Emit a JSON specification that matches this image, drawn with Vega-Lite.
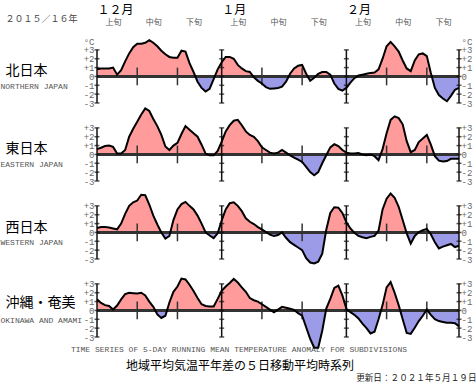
{
"$schema": "https://vega.github.io/schema/vega-lite/v6.json",
"padding": {"top": 3, "left": 0, "right": 0, "bottom": 0},
"bounds": "flush",
"spacing": 16,
"config": {"view": {"stroke": null}, "axis": {"grid": false, "ticks": false, "domain": false, "labelFont": "Liberation Mono", "labelFontSize": 9, "labelColor": "#6a6a6a", "labelOverlap": false, "labelFlush": false, "titleFontWeight": "normal"}},
"datasets": {
"north": [{"date":"2015-12-01","v":0.8},{"date":"2015-12-02","v":0.9},{"date":"2015-12-03","v":0.9},{"date":"2015-12-04","v":0.9},{"date":"2015-12-05","v":1.0},{"date":"2015-12-06","v":0.2},{"date":"2015-12-07","v":0.7},{"date":"2015-12-08","v":1.7},{"date":"2015-12-09","v":2.6},{"date":"2015-12-10","v":3.3},{"date":"2015-12-11","v":3.7},{"date":"2015-12-12","v":3.7},{"date":"2015-12-13","v":3.8},{"date":"2015-12-14","v":4.1},{"date":"2015-12-15","v":3.8},{"date":"2015-12-16","v":3.4},{"date":"2015-12-17","v":2.9},{"date":"2015-12-18","v":2.5},{"date":"2015-12-19","v":2.2},{"date":"2015-12-20","v":2.1},{"date":"2015-12-21","v":2.1},{"date":"2015-12-22","v":2.9},{"date":"2015-12-23","v":2.8},{"date":"2015-12-24","v":1.5},{"date":"2015-12-25","v":0.5},{"date":"2015-12-26","v":-0.6},{"date":"2015-12-27","v":-1.3},{"date":"2015-12-28","v":-1.7},{"date":"2015-12-29","v":-1.4},{"date":"2015-12-30","v":-0.3},{"date":"2015-12-31","v":0.8},
{"date":"2016-01-01","v":1.6},{"date":"2016-01-02","v":2.2},{"date":"2016-01-03","v":2.2},{"date":"2016-01-04","v":2.0},{"date":"2016-01-05","v":1.3},{"date":"2016-01-06","v":0.9},{"date":"2016-01-07","v":0.6},{"date":"2016-01-08","v":0.5},{"date":"2016-01-09","v":-0.1},{"date":"2016-01-10","v":-0.5},{"date":"2016-01-11","v":-0.8},{"date":"2016-01-12","v":-1.2},{"date":"2016-01-13","v":-1.4},{"date":"2016-01-14","v":-1.35},{"date":"2016-01-15","v":-1.3},{"date":"2016-01-16","v":-1.15},{"date":"2016-01-17","v":-0.6},{"date":"2016-01-18","v":0.3},{"date":"2016-01-19","v":0.9},{"date":"2016-01-20","v":1.2},{"date":"2016-01-21","v":1.3},{"date":"2016-01-22","v":0.3},{"date":"2016-01-23","v":-0.5},{"date":"2016-01-24","v":-0.15},{"date":"2016-01-25","v":0.3},{"date":"2016-01-26","v":0.5},{"date":"2016-01-27","v":0.5},{"date":"2016-01-28","v":0.2},{"date":"2016-01-29","v":-0.8},{"date":"2016-01-30","v":-1.4},{"date":"2016-01-31","v":-1.6},
{"date":"2016-02-01","v":-1.3},{"date":"2016-02-02","v":-0.7},{"date":"2016-02-03","v":-0.2},{"date":"2016-02-04","v":0.1},{"date":"2016-02-05","v":0.2},{"date":"2016-02-06","v":0.3},{"date":"2016-02-07","v":0.4},{"date":"2016-02-08","v":0.45},{"date":"2016-02-09","v":0.8},{"date":"2016-02-10","v":2.0},{"date":"2016-02-11","v":3.4},{"date":"2016-02-12","v":3.9},{"date":"2016-02-13","v":3.4},{"date":"2016-02-14","v":2.8},{"date":"2016-02-15","v":1.8},{"date":"2016-02-16","v":0.9},{"date":"2016-02-17","v":0.6},{"date":"2016-02-18","v":1.8},{"date":"2016-02-19","v":2.5},{"date":"2016-02-20","v":2.6},{"date":"2016-02-21","v":2.3},{"date":"2016-02-22","v":0.4},{"date":"2016-02-23","v":-1.3},{"date":"2016-02-24","v":-2.1},{"date":"2016-02-25","v":-2.5},{"date":"2016-02-26","v":-2.8},{"date":"2016-02-27","v":-2.2},{"date":"2016-02-28","v":-1.5},{"date":"2016-02-29","v":-1.3}],
"east": [{"date":"2015-12-01","v":0.6},{"date":"2015-12-02","v":0.75},{"date":"2015-12-03","v":0.95},{"date":"2015-12-04","v":1.0},{"date":"2015-12-05","v":0.85},{"date":"2015-12-06","v":0.1},{"date":"2015-12-07","v":0.1},{"date":"2015-12-08","v":0.5},{"date":"2015-12-09","v":2.0},{"date":"2015-12-10","v":2.9},{"date":"2015-12-11","v":3.7},{"date":"2015-12-12","v":4.5},{"date":"2015-12-13","v":5.2},{"date":"2015-12-14","v":4.9},{"date":"2015-12-15","v":4.0},{"date":"2015-12-16","v":3.2},{"date":"2015-12-17","v":2.2},{"date":"2015-12-18","v":0.9},{"date":"2015-12-19","v":0.5},{"date":"2015-12-20","v":1.0},{"date":"2015-12-21","v":1.3},{"date":"2015-12-22","v":2.3},{"date":"2015-12-23","v":3.2},{"date":"2015-12-24","v":2.8},{"date":"2015-12-25","v":2.4},{"date":"2015-12-26","v":2.0},{"date":"2015-12-27","v":1.1},{"date":"2015-12-28","v":0.1},{"date":"2015-12-29","v":-0.1},{"date":"2015-12-30","v":-0.1},{"date":"2015-12-31","v":0.4},
{"date":"2016-01-01","v":1.45},{"date":"2016-01-02","v":2.6},{"date":"2016-01-03","v":3.3},{"date":"2016-01-04","v":3.8},{"date":"2016-01-05","v":3.9},{"date":"2016-01-06","v":3.3},{"date":"2016-01-07","v":2.6},{"date":"2016-01-08","v":2.2},{"date":"2016-01-09","v":2.0},{"date":"2016-01-10","v":1.5},{"date":"2016-01-11","v":0.8},{"date":"2016-01-12","v":0.5},{"date":"2016-01-13","v":0.2},{"date":"2016-01-14","v":0.1},{"date":"2016-01-15","v":0.2},{"date":"2016-01-16","v":0.5},{"date":"2016-01-17","v":0.2},{"date":"2016-01-18","v":-0.1},{"date":"2016-01-19","v":-0.35},{"date":"2016-01-20","v":-0.6},{"date":"2016-01-21","v":-0.85},{"date":"2016-01-22","v":-1.4},{"date":"2016-01-23","v":-2.0},{"date":"2016-01-24","v":-2.35},{"date":"2016-01-25","v":-2.0},{"date":"2016-01-26","v":-1.0},{"date":"2016-01-27","v":-0.1},{"date":"2016-01-28","v":0.8},{"date":"2016-01-29","v":1.15},{"date":"2016-01-30","v":0.95},{"date":"2016-01-31","v":0.5},
{"date":"2016-02-01","v":0.2},{"date":"2016-02-02","v":0.1},{"date":"2016-02-03","v":0.1},{"date":"2016-02-04","v":0.15},{"date":"2016-02-05","v":0.0},{"date":"2016-02-06","v":-0.1},{"date":"2016-02-07","v":0.0},{"date":"2016-02-08","v":-0.2},{"date":"2016-02-09","v":-0.65},{"date":"2016-02-10","v":0.6},{"date":"2016-02-11","v":2.4},{"date":"2016-02-12","v":3.9},{"date":"2016-02-13","v":4.3},{"date":"2016-02-14","v":4.1},{"date":"2016-02-15","v":3.4},{"date":"2016-02-16","v":1.5},{"date":"2016-02-17","v":0.25},{"date":"2016-02-18","v":0.5},{"date":"2016-02-19","v":1.4},{"date":"2016-02-20","v":1.8},{"date":"2016-02-21","v":2.2},{"date":"2016-02-22","v":1.1},{"date":"2016-02-23","v":-0.2},{"date":"2016-02-24","v":-0.7},{"date":"2016-02-25","v":-0.8},{"date":"2016-02-26","v":-0.75},{"date":"2016-02-27","v":-0.5},{"date":"2016-02-28","v":-0.5},{"date":"2016-02-29","v":-0.5}],
"west": [{"date":"2015-12-01","v":0.5},{"date":"2015-12-02","v":0.6},{"date":"2015-12-03","v":0.6},{"date":"2015-12-04","v":0.55},{"date":"2015-12-05","v":0.45},{"date":"2015-12-06","v":0.35},{"date":"2015-12-07","v":1.0},{"date":"2015-12-08","v":2.1},{"date":"2015-12-09","v":3.0},{"date":"2015-12-10","v":3.4},{"date":"2015-12-11","v":3.6},{"date":"2015-12-12","v":4.25},{"date":"2015-12-13","v":4.2},{"date":"2015-12-14","v":3.15},{"date":"2015-12-15","v":1.9},{"date":"2015-12-16","v":0.9},{"date":"2015-12-17","v":0.0},{"date":"2015-12-18","v":-0.7},{"date":"2015-12-19","v":-0.4},{"date":"2015-12-20","v":1.4},{"date":"2015-12-21","v":2.6},{"date":"2015-12-22","v":3.2},{"date":"2015-12-23","v":3.45},{"date":"2015-12-24","v":3.0},{"date":"2015-12-25","v":2.6},{"date":"2015-12-26","v":1.9},{"date":"2015-12-27","v":1.0},{"date":"2015-12-28","v":0.0},{"date":"2015-12-29","v":-0.35},{"date":"2015-12-30","v":-0.65},{"date":"2015-12-31","v":-0.1},
{"date":"2016-01-01","v":1.35},{"date":"2016-01-02","v":2.6},{"date":"2016-01-03","v":3.3},{"date":"2016-01-04","v":3.4},{"date":"2016-01-05","v":3.0},{"date":"2016-01-06","v":2.4},{"date":"2016-01-07","v":1.6},{"date":"2016-01-08","v":1.2},{"date":"2016-01-09","v":0.95},{"date":"2016-01-10","v":0.6},{"date":"2016-01-11","v":0.35},{"date":"2016-01-12","v":0.05},{"date":"2016-01-13","v":-0.25},{"date":"2016-01-14","v":-0.4},{"date":"2016-01-15","v":-0.3},{"date":"2016-01-16","v":0.0},{"date":"2016-01-17","v":-0.6},{"date":"2016-01-18","v":-1.1},{"date":"2016-01-19","v":-1.4},{"date":"2016-01-20","v":-1.7},{"date":"2016-01-21","v":-2.0},{"date":"2016-01-22","v":-2.9},{"date":"2016-01-23","v":-3.4},{"date":"2016-01-24","v":-3.5},{"date":"2016-01-25","v":-3.3},{"date":"2016-01-26","v":-2.4},{"date":"2016-01-27","v":0.3},{"date":"2016-01-28","v":2.2},{"date":"2016-01-29","v":2.85},{"date":"2016-01-30","v":2.8},{"date":"2016-01-31","v":2.2},
{"date":"2016-02-01","v":1.15},{"date":"2016-02-02","v":0.45},{"date":"2016-02-03","v":-0.05},{"date":"2016-02-04","v":-0.4},{"date":"2016-02-05","v":-0.55},{"date":"2016-02-06","v":-0.65},{"date":"2016-02-07","v":-0.5},{"date":"2016-02-08","v":-0.4},{"date":"2016-02-09","v":0.2},{"date":"2016-02-10","v":2.6},{"date":"2016-02-11","v":3.8},{"date":"2016-02-12","v":4.4},{"date":"2016-02-13","v":3.9},{"date":"2016-02-14","v":2.9},{"date":"2016-02-15","v":1.4},{"date":"2016-02-16","v":-0.1},{"date":"2016-02-17","v":-1.25},{"date":"2016-02-18","v":-0.4},{"date":"2016-02-19","v":0.05},{"date":"2016-02-20","v":0.25},{"date":"2016-02-21","v":0.4},{"date":"2016-02-22","v":-0.2},{"date":"2016-02-23","v":-1.1},{"date":"2016-02-24","v":-1.8},{"date":"2016-02-25","v":-1.6},{"date":"2016-02-26","v":-1.45},{"date":"2016-02-27","v":-1.3},{"date":"2016-02-28","v":-1.65},{"date":"2016-02-29","v":-1.5}],
"okinawa": [{"date":"2015-12-01","v":1.25},{"date":"2015-12-02","v":0.85},{"date":"2015-12-03","v":0.6},{"date":"2015-12-04","v":0.5},{"date":"2015-12-05","v":0.1},{"date":"2015-12-06","v":0.55},{"date":"2015-12-07","v":1.25},{"date":"2015-12-08","v":1.85},{"date":"2015-12-09","v":2.0},{"date":"2015-12-10","v":1.95},{"date":"2015-12-11","v":1.9},{"date":"2015-12-12","v":2.0},{"date":"2015-12-13","v":1.7},{"date":"2015-12-14","v":1.0},{"date":"2015-12-15","v":0.4},{"date":"2015-12-16","v":-0.45},{"date":"2015-12-17","v":-0.85},{"date":"2015-12-18","v":-0.6},{"date":"2015-12-19","v":0.9},{"date":"2015-12-20","v":2.1},{"date":"2015-12-21","v":2.7},{"date":"2015-12-22","v":3.6},{"date":"2015-12-23","v":3.5},{"date":"2015-12-24","v":2.9},{"date":"2015-12-25","v":2.2},{"date":"2015-12-26","v":1.4},{"date":"2015-12-27","v":0.7},{"date":"2015-12-28","v":0.5},{"date":"2015-12-29","v":0.45},{"date":"2015-12-30","v":0.45},{"date":"2015-12-31","v":1.3},
{"date":"2016-01-01","v":2.2},{"date":"2016-01-02","v":2.7},{"date":"2016-01-03","v":3.1},{"date":"2016-01-04","v":3.55},{"date":"2016-01-05","v":3.15},{"date":"2016-01-06","v":2.6},{"date":"2016-01-07","v":2.1},{"date":"2016-01-08","v":1.4},{"date":"2016-01-09","v":1.15},{"date":"2016-01-10","v":1.0},{"date":"2016-01-11","v":0.7},{"date":"2016-01-12","v":0.4},{"date":"2016-01-13","v":0.1},{"date":"2016-01-14","v":-0.2},{"date":"2016-01-15","v":0.1},{"date":"2016-01-16","v":0.4},{"date":"2016-01-17","v":0.3},{"date":"2016-01-18","v":0.2},{"date":"2016-01-19","v":0.05},{"date":"2016-01-20","v":-0.3},{"date":"2016-01-21","v":-0.6},{"date":"2016-01-22","v":-1.9},{"date":"2016-01-23","v":-3.2},{"date":"2016-01-24","v":-4.2},{"date":"2016-01-25","v":-4.2},{"date":"2016-01-26","v":-2.3},{"date":"2016-01-27","v":0.2},{"date":"2016-01-28","v":1.3},{"date":"2016-01-29","v":2.55},{"date":"2016-01-30","v":2.8},{"date":"2016-01-31","v":1.7},
{"date":"2016-02-01","v":0.2},{"date":"2016-02-02","v":-0.2},{"date":"2016-02-03","v":-0.5},{"date":"2016-02-04","v":-0.9},{"date":"2016-02-05","v":-1.5},{"date":"2016-02-06","v":-2.0},{"date":"2016-02-07","v":-2.6},{"date":"2016-02-08","v":-2.4},{"date":"2016-02-09","v":-1.0},{"date":"2016-02-10","v":0.6},{"date":"2016-02-11","v":2.6},{"date":"2016-02-12","v":3.2},{"date":"2016-02-13","v":2.0},{"date":"2016-02-14","v":0.6},{"date":"2016-02-15","v":-1.0},{"date":"2016-02-16","v":-2.55},{"date":"2016-02-17","v":-2.65},{"date":"2016-02-18","v":-1.95},{"date":"2016-02-19","v":-1.2},{"date":"2016-02-20","v":-0.6},{"date":"2016-02-21","v":0.1},{"date":"2016-02-22","v":-0.5},{"date":"2016-02-23","v":-1.0},{"date":"2016-02-24","v":-1.2},{"date":"2016-02-25","v":-1.3},{"date":"2016-02-26","v":-1.4},{"date":"2016-02-27","v":-1.4},{"date":"2016-02-28","v":-1.45},{"date":"2016-02-29","v":-1.8}],
"decades": [{"date":"2015-12-11"},{"date":"2015-12-21"},{"date":"2016-01-11"},{"date":"2016-01-21"},{"date":"2016-02-11"},{"date":"2016-02-21"}],
"frame": [{"date":"2015-12-01"},{"date":"2016-01-01"},{"date":"2016-02-01"},{"date":"2016-02-29"}],
"frameTicks": [{"date":"2015-12-01","t":-3},{"date":"2015-12-01","t":-2},{"date":"2015-12-01","t":-1},{"date":"2015-12-01","t":0},{"date":"2015-12-01","t":1},{"date":"2015-12-01","t":2},{"date":"2015-12-01","t":3},
{"date":"2016-01-01","t":-3},{"date":"2016-01-01","t":-2},{"date":"2016-01-01","t":-1},{"date":"2016-01-01","t":0},{"date":"2016-01-01","t":1},{"date":"2016-01-01","t":2},{"date":"2016-01-01","t":3},
{"date":"2016-02-01","t":-3},{"date":"2016-02-01","t":-2},{"date":"2016-02-01","t":-1},{"date":"2016-02-01","t":0},{"date":"2016-02-01","t":1},{"date":"2016-02-01","t":2},{"date":"2016-02-01","t":3},
{"date":"2016-02-29","t":-3},{"date":"2016-02-29","t":-2},{"date":"2016-02-29","t":-1},{"date":"2016-02-29","t":0},{"date":"2016-02-29","t":1},{"date":"2016-02-29","t":2},{"date":"2016-02-29","t":3}]
},
"vconcat": [
{
"width": 362, "height": 62,
"data": {"name": "north"},
"layer": [
{"mark": {"type": "area", "fill": {"gradient": "linear", "x1": 0, "y1": 0, "x2": 0, "y2": 1, "stops": [{"offset": 0.5942, "color": "#ff9b9b"}, {"offset": 0.5942, "color": "#9b9be8"}]}},
 "encoding": {
  "x": {"field": "date", "type": "temporal", "scale": {"type": "utc", "domain": [{"year": 2015, "month": 12, "date": 1, "utc": true}, {"year": 2016, "month": 2, "date": 29, "utc": true}]},
        "axis": {"orient": "bottom", "labels": false, "title": "NORTHERN JAPAN", "titleFont": "Liberation Mono", "titleFontSize": 8, "titleColor": "#555", "titleX": -97, "titleY": -16.5, "titleAlign": "left", "titleBaseline": "middle"}},
  "y": {"field": "v", "type": "quantitative", "scale": {"domain": [-3, 4], "nice": false, "zero": false},
        "axis": {"orient": "left", "values": [-3, -2, -1, 0, 1, 2, 3, 4], "labelExpr": "datum.value > 3.5 ? '°C' : datum.value > 0 ? '+' + datum.value : '' + datum.value", "labelPadding": 3,
                 "title": "北日本", "titleFont": "Noto Sans CJK JP", "titleFontSize": 14, "titleColor": "#000", "titleAngle": 0, "titleAlign": "left", "titleBaseline": "middle", "titleX": -92, "titleY": 29.4}},
  "y2": {"datum": 0}}},
{"mark": {"type": "rule", "color": "#333", "strokeWidth": 2}, "encoding": {"y": {"datum": 0, "type": "quantitative", "axis": null}}},
{"data": {"name": "decades"}, "mark": {"type": "rule", "color": "#333", "strokeWidth": 1.5},
 "encoding": {"x": {"field": "date", "type": "temporal", "axis": null}, "y": {"datum": -1, "type": "quantitative", "axis": null}, "y2": {"datum": 1}}},
{"data": {"name": "frame"}, "mark": {"type": "rule", "color": "#111", "strokeWidth": 1.5},
 "encoding": {"x": {"field": "date", "type": "temporal",
   "axis": {"orient": "top", "values": [{"year": 2015, "month": 12, "date": 1, "utc": true}, {"year": 2016, "month": 1, "date": 1, "utc": true}, {"year": 2016, "month": 2, "date": 1, "utc": true}],
            "labelExpr": "utcmonth(datum.value) == 11 ? '１２月' : utcmonth(datum.value) == 0 ? '１月' : '２月'", "labelAlign": "left", "labelFont": "Noto Sans CJK JP", "labelFontSize": 12, "labelColor": "#000", "labelPadding": 24.5, "title": null}},
  "y": {"datum": -3, "type": "quantitative", "axis": null}, "y2": {"datum": 3}}},
{"data": {"name": "frameTicks"}, "mark": {"type": "tick", "orient": "horizontal", "size": 5, "thickness": 1.5, "color": "#111"},
 "encoding": {"x": {"field": "date", "type": "temporal", "axis": null}, "y": {"field": "t", "type": "quantitative", "axis": null}}},
{"mark": {"type": "line", "color": "#000", "strokeWidth": 2},
 "encoding": {
  "x": {"field": "date", "type": "temporal",
        "axis": {"orient": "top", "values": [{"year": 2015, "month": 12, "date": 5, "utc": true}, {"year": 2015, "month": 12, "date": 15, "utc": true}, {"year": 2015, "month": 12, "date": 25, "utc": true}, {"year": 2016, "month": 1, "date": 5, "utc": true}, {"year": 2016, "month": 1, "date": 15, "utc": true}, {"year": 2016, "month": 1, "date": 25, "utc": true}, {"year": 2016, "month": 2, "date": 5, "utc": true}, {"year": 2016, "month": 2, "date": 15, "utc": true}, {"year": 2016, "month": 2, "date": 25, "utc": true}],
                 "labelExpr": "utcdate(datum.value) < 10 ? '上旬' : utcdate(datum.value) < 20 ? '中旬' : '下旬'", "labelFont": "Noto Sans CJK JP", "labelFontSize": 8, "labelColor": "#555", "labelPadding": 15,
                 "title": "２０１５／１６年", "titleFont": "Noto Sans CJK JP", "titleFontSize": 9, "titleColor": "#444", "titleX": -92, "titleY": -22.6, "titleAlign": "left", "titleBaseline": "middle"}},
  "y": {"field": "v", "type": "quantitative",
        "axis": {"orient": "right", "values": [-3, -2, -1, 0, 1, 2, 3, 4], "labelExpr": "datum.value > 3.5 ? '°C' : datum.value > 0 ? '+' + datum.value : '' + datum.value", "labelPadding": 2, "title": null}}}}
],
"resolve": {"axis": {"x": "independent", "y": "independent"}}
},
{
"width": 362, "height": 62,
"data": {"name": "east"},
"layer": [
{"mark": {"type": "area", "fill": {"gradient": "linear", "x1": 0, "y1": 0, "x2": 0, "y2": 1, "stops": [{"offset": 0.6887, "color": "#ff9b9b"}, {"offset": 0.6887, "color": "#9b9be8"}]}},
 "encoding": {
  "x": {"field": "date", "type": "temporal", "scale": {"type": "utc", "domain": [{"year": 2015, "month": 12, "date": 1, "utc": true}, {"year": 2016, "month": 2, "date": 29, "utc": true}]},
        "axis": {"orient": "bottom", "labels": false, "title": "EASTERN JAPAN", "titleFont": "Liberation Mono", "titleFontSize": 8, "titleColor": "#555", "titleX": -97, "titleY": -16.5, "titleAlign": "left", "titleBaseline": "middle"}},
  "y": {"field": "v", "type": "quantitative", "scale": {"domain": [-3, 4], "nice": false, "zero": false},
        "axis": {"orient": "left", "values": [-3, -2, -1, 0, 1, 2, 3], "labelExpr": "datum.value > 0 ? '+' + datum.value : '' + datum.value", "labelPadding": 3,
                 "title": "東日本", "titleFont": "Noto Sans CJK JP", "titleFontSize": 14, "titleColor": "#000", "titleAngle": 0, "titleAlign": "left", "titleBaseline": "middle", "titleX": -92, "titleY": 29.9}},
  "y2": {"datum": 0}}},
{"mark": {"type": "rule", "color": "#333", "strokeWidth": 2}, "encoding": {"y": {"datum": 0, "type": "quantitative", "axis": null}}},
{"data": {"name": "decades"}, "mark": {"type": "rule", "color": "#333", "strokeWidth": 1.5},
 "encoding": {"x": {"field": "date", "type": "temporal", "axis": null}, "y": {"datum": -1, "type": "quantitative", "axis": null}, "y2": {"datum": 1}}},
{"data": {"name": "frame"}, "mark": {"type": "rule", "color": "#111", "strokeWidth": 1.5},
 "encoding": {"x": {"field": "date", "type": "temporal", "axis": null}, "y": {"datum": -3, "type": "quantitative", "axis": null}, "y2": {"datum": 3}}},
{"data": {"name": "frameTicks"}, "mark": {"type": "tick", "orient": "horizontal", "size": 5, "thickness": 1.5, "color": "#111"},
 "encoding": {"x": {"field": "date", "type": "temporal", "axis": null}, "y": {"field": "t", "type": "quantitative", "axis": null}}},
{"mark": {"type": "line", "color": "#000", "strokeWidth": 2},
 "encoding": {
  "x": {"field": "date", "type": "temporal", "axis": null},
  "y": {"field": "v", "type": "quantitative",
        "axis": {"orient": "right", "values": [-3, -2, -1, 0, 1, 2, 3], "labelExpr": "datum.value > 0 ? '+' + datum.value : '' + datum.value", "labelPadding": 2, "title": null}}}}
],
"resolve": {"axis": {"x": "independent", "y": "independent"}}
},
{
"width": 362, "height": 62,
"data": {"name": "west"},
"layer": [
{"mark": {"type": "area", "fill": {"gradient": "linear", "x1": 0, "y1": 0, "x2": 0, "y2": 1, "stops": [{"offset": 0.557, "color": "#ff9b9b"}, {"offset": 0.557, "color": "#9b9be8"}]}},
 "encoding": {
  "x": {"field": "date", "type": "temporal", "scale": {"type": "utc", "domain": [{"year": 2015, "month": 12, "date": 1, "utc": true}, {"year": 2016, "month": 2, "date": 29, "utc": true}]},
        "axis": {"orient": "bottom", "labels": false, "title": "WESTERN JAPAN", "titleFont": "Liberation Mono", "titleFontSize": 8, "titleColor": "#555", "titleX": -97, "titleY": -16.5, "titleAlign": "left", "titleBaseline": "middle"}},
  "y": {"field": "v", "type": "quantitative", "scale": {"domain": [-3, 4], "nice": false, "zero": false},
        "axis": {"orient": "left", "values": [-3, -2, -1, 0, 1, 2, 3], "labelExpr": "datum.value > 0 ? '+' + datum.value : '' + datum.value", "labelPadding": 3,
                 "title": "西日本", "titleFont": "Noto Sans CJK JP", "titleFontSize": 14, "titleColor": "#000", "titleAngle": 0, "titleAlign": "left", "titleBaseline": "middle", "titleX": -92, "titleY": 30.3}},
  "y2": {"datum": 0}}},
{"mark": {"type": "rule", "color": "#333", "strokeWidth": 2}, "encoding": {"y": {"datum": 0, "type": "quantitative", "axis": null}}},
{"data": {"name": "decades"}, "mark": {"type": "rule", "color": "#333", "strokeWidth": 1.5},
 "encoding": {"x": {"field": "date", "type": "temporal", "axis": null}, "y": {"datum": -1, "type": "quantitative", "axis": null}, "y2": {"datum": 1}}},
{"data": {"name": "frame"}, "mark": {"type": "rule", "color": "#111", "strokeWidth": 1.5},
 "encoding": {"x": {"field": "date", "type": "temporal", "axis": null}, "y": {"datum": -3, "type": "quantitative", "axis": null}, "y2": {"datum": 3}}},
{"data": {"name": "frameTicks"}, "mark": {"type": "tick", "orient": "horizontal", "size": 5, "thickness": 1.5, "color": "#111"},
 "encoding": {"x": {"field": "date", "type": "temporal", "axis": null}, "y": {"field": "t", "type": "quantitative", "axis": null}}},
{"mark": {"type": "line", "color": "#000", "strokeWidth": 2},
 "encoding": {
  "x": {"field": "date", "type": "temporal", "axis": null},
  "y": {"field": "v", "type": "quantitative",
        "axis": {"orient": "right", "values": [-3, -2, -1, 0, 1, 2, 3], "labelExpr": "datum.value > 0 ? '+' + datum.value : '' + datum.value", "labelPadding": 2, "title": null}}}}
],
"resolve": {"axis": {"x": "independent", "y": "independent"}}
},
{
"width": 362, "height": 62,
"data": {"name": "okinawa"},
"layer": [
{"mark": {"type": "area", "fill": {"gradient": "linear", "x1": 0, "y1": 0, "x2": 0, "y2": 1, "stops": [{"offset": 0.4615, "color": "#ff9b9b"}, {"offset": 0.4615, "color": "#9b9be8"}]}},
 "encoding": {
  "x": {"field": "date", "type": "temporal", "scale": {"type": "utc", "domain": [{"year": 2015, "month": 12, "date": 1, "utc": true}, {"year": 2016, "month": 2, "date": 29, "utc": true}]},
        "axis": {"orient": "bottom", "labels": false, "title": "OKINAWA AND AMAMI", "titleFont": "Liberation Mono", "titleFontSize": 8, "titleColor": "#555", "titleX": -97, "titleY": -16.8, "titleAlign": "left", "titleBaseline": "middle"}},
  "y": {"field": "v", "type": "quantitative", "scale": {"domain": [-3, 4], "nice": false, "zero": false},
        "axis": {"orient": "left", "values": [-3, -2, -1, 0, 1, 2, 3], "labelExpr": "datum.value > 0 ? '+' + datum.value : '' + datum.value", "labelPadding": 3,
                 "title": "沖縄・奄美", "titleFont": "Noto Sans CJK JP", "titleFontSize": 14, "titleColor": "#000", "titleAngle": 0, "titleAlign": "left", "titleBaseline": "middle", "titleX": -92, "titleY": 27.4}},
  "y2": {"datum": 0}}},
{"mark": {"type": "rule", "color": "#333", "strokeWidth": 2}, "encoding": {"y": {"datum": 0, "type": "quantitative", "axis": null}}},
{"data": {"name": "decades"}, "mark": {"type": "rule", "color": "#333", "strokeWidth": 1.5},
 "encoding": {"x": {"field": "date", "type": "temporal", "axis": null}, "y": {"datum": -1, "type": "quantitative", "axis": null}, "y2": {"datum": 1}}},
{"data": {"name": "frame"}, "mark": {"type": "rule", "color": "#111", "strokeWidth": 1.5},
 "encoding": {"x": {"field": "date", "type": "temporal",
   "axis": {"orient": "bottom", "labels": false, "title": "地域平均気温平年差の５日移動平均時系列", "titleFont": "Noto Sans CJK JP", "titleFontSize": 12, "titleColor": "#000", "titleX": 142.5, "titleY": 28.4, "titleAlign": "center", "titleBaseline": "middle"}},
  "y": {"datum": -3, "type": "quantitative", "axis": null}, "y2": {"datum": 3}}},
{"data": {"name": "frameTicks"}, "mark": {"type": "tick", "orient": "horizontal", "size": 5, "thickness": 1.5, "color": "#111"},
 "encoding": {"x": {"field": "date", "type": "temporal", "axis": null}, "y": {"field": "t", "type": "quantitative", "axis": null}}},
{"mark": {"type": "line", "color": "#000", "strokeWidth": 2},
 "encoding": {
  "x": {"field": "date", "type": "temporal",
        "axis": {"orient": "bottom", "labels": false, "title": "TIME SERIES OF 5-DAY RUNNING MEAN TEMPERATURE ANOMALY FOR SUBDIVISIONS", "titleFont": "Liberation Mono", "titleFontSize": 8, "titleColor": "#555", "titleX": 141.5, "titleY": 12.4, "titleAlign": "center", "titleBaseline": "middle"}},
  "y": {"field": "v", "type": "quantitative",
        "axis": {"orient": "right", "values": [-3, -2, -1, 0, 1, 2, 3], "labelExpr": "datum.value > 0 ? '+' + datum.value : '' + datum.value", "labelPadding": 2,
                 "title": "更新日：２０２１年５月１９日", "titleFont": "Noto Sans CJK JP", "titleFontSize": 8.6, "titleColor": "#222", "titleAngle": 0, "titleX": 17, "titleY": 102.2, "titleAlign": "right", "titleBaseline": "middle"}}}}
],
"resolve": {"axis": {"x": "independent", "y": "independent"}}
}
]
}
